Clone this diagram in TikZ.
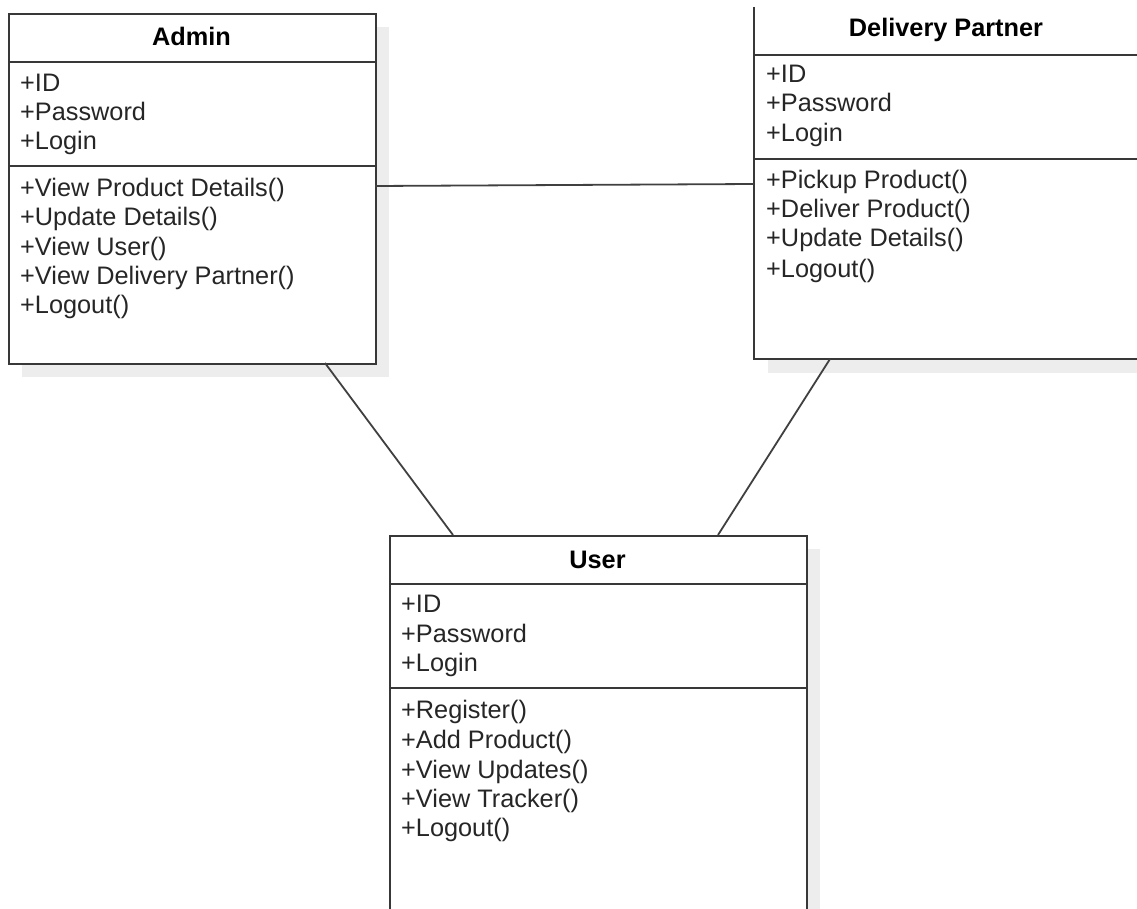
\documentclass[tikz,border=0pt]{standalone}
\usepackage{fontspec}
\setmainfont{Liberation Sans}
\begin{document}
\begin{tikzpicture}[x=1pt,y=-1pt,
  box/.style={draw=black!78,line width=1.8pt,fill=white},
  shadowbox/.style={fill=black!7,draw=none},
  ln/.style={draw=black!78,line width=1.8pt},
  link/.style={draw=black!75,line width=1.8pt},
  ttl/.style={anchor=base,inner sep=0pt,font=\fontsize{25.3}{29}\selectfont\bfseries,text=black},
  txt/.style={anchor=base west,inner sep=0pt,font=\fontsize{25.3}{29}\selectfont,text=black!85}]
\useasboundingbox (0,0) rectangle (1137,909);
\clip (0,0) rectangle (1137,909);
% shadows
\fill[shadowbox] (22,27) rectangle (389,377);
\fill[shadowbox] (768,21) rectangle (1160,373);
\fill[shadowbox] (403,549) rectangle (820,930);
% Admin
\node[box,minimum width=367pt,minimum height=350pt,inner sep=0pt,anchor=north west] (admin) at (8,13) {};
\draw[ln] (8,62) -- (375,62);
\draw[ln] (8,166) -- (375,166);
\node[ttl] (admint) at (191.5,46) {Admin};
\node[txt] (a1) at (20,92) {+ID};
\node[txt] (a2) at (20,121) {+Password};
\node[txt] (a3) at (20,150) {+Login};
\node[txt] (a4) at (20,197) {+View Product Details()};
\node[txt] (a5) at (20,226) {+Update Details()};
\node[txt] (a6) at (20,255) {+View User()};
\node[txt] (a7) at (20,284) {+View Delivery Partner()};
\node[txt] (a8) at (20,313) {+Logout()};
% Delivery Partner
\fill[white] (754,7) rectangle (1160,359);
\draw[ln] (754,7) -- (754,359) -- (1160,359);
\node[inner sep=0pt] (dp) at (957,183) {};
\draw[ln] (754,55) -- (1160,55);
\draw[ln] (754,159) -- (1160,159);
\node[ttl] (dpt) at (946,37) {Delivery Partner};
\node[txt] (d1) at (766,83) {+ID};
\node[txt] (d2) at (766,112) {+Password};
\node[txt] (d3) at (766,142) {+Login};
\node[txt] (d4) at (766,189) {+Pickup Product()};
\node[txt] (d5) at (766,218) {+Deliver Product()};
\node[txt] (d6) at (766,247) {+Update Details()};
\node[txt] (d7) at (766,277) {+Logout()};
% User
\node[box,minimum width=417pt,minimum height=400pt,inner sep=0pt,anchor=north west] (user) at (389,535) {};
\draw[ln] (389,584) -- (806,584);
\draw[ln] (389,688) -- (806,688);
\node[ttl] (usert) at (597.5,568) {User};
\node[txt] (u1) at (401,612) {+ID};
\node[txt] (u2) at (401,642) {+Password};
\node[txt] (u3) at (401,671) {+Login};
\node[txt] (u4) at (401,718) {+Register()};
\node[txt] (u5) at (401,748) {+Add Product()};
\node[txt] (u6) at (401,778) {+View Updates()};
\node[txt] (u7) at (401,807) {+View Tracker()};
\node[txt] (u8) at (401,836) {+Logout()};
% connectors
\coordinate (aR) at (375,186);
\coordinate (dL) at (754,184);
\coordinate (aB) at (325,363);
\coordinate (uA) at (453,535);
\coordinate (dB) at (830,359);
\coordinate (uD) at (718,535);
\draw[link] (aR) -- (dL);
\draw[link] (aB) -- (uA);
\draw[link] (dB) -- (uD);
\end{tikzpicture}
\end{document}
